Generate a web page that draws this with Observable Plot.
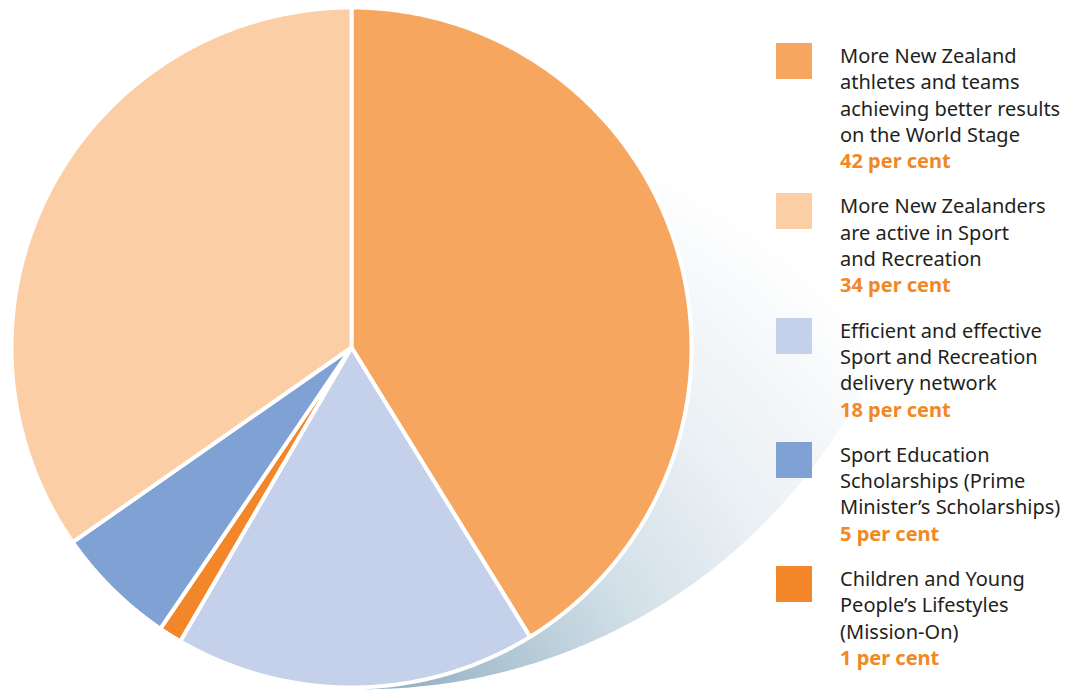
<!DOCTYPE html>
<html>
<head>
<meta charset="utf-8">
<script src="https://cdn.jsdelivr.net/npm/d3@7"></script>
<script src="https://cdn.jsdelivr.net/npm/@observablehq/plot@0.6"></script>
<style>
  html, body { margin: 0; padding: 0; background: #fff; }
  #wrap { position: relative; width: 1073px; height: 692px; overflow: hidden; }
  #chart svg { display: block; }
  #legend { position: absolute; left: 776px; top: 48px; font-family: "Noto Sans", sans-serif; font-size: 20px; color: #231f20; }
  .item { position: relative; padding-left: 64px; margin-bottom: 24px; line-height: 26.3px; }
  .item .sw { position: absolute; left: 0; top: 0; width: 36px; height: 36px; }
  .item .txt { margin-top: -5px; }
  .item .pct { color: #f18824; font-weight: bold; }
</style>
</head>
<body>
<div id="wrap">
  <div id="chart"></div>
  <div id="legend"></div>
</div>
<script>
// ---- data (clockwise from 12 o'clock) ----
const categories = [
  "More New Zealand athletes and teams achieving better results on the World Stage",
  "Efficient and effective Sport and Recreation delivery network",
  "Children and Young People’s Lifestyles (Mission-On)",
  "Sport Education Scholarships (Prime Minister’s Scholarships)",
  "More New Zealanders are active in Sport and Recreation"
];
const values = [41.2, 17.2, 1.1, 5.8, 34.7];          // slice sizes
const colors = ["#f7a660", "#c5d0ea", "#f4862a", "#7fa1d3", "#fbcea6"];

// legend order and text
const legendOrder = [0, 4, 1, 3, 2];
const legendLines = [
  ["More New Zealand", "athletes and teams", "achieving better results", "on the World Stage"],
  ["More New Zealanders", "are active in Sport", "and Recreation"],
  ["Efficient and effective", "Sport and Recreation", "delivery network"],
  ["Sport Education", "Scholarships (Prime", "Minister’s Scholarships)"],
  ["Children and Young", "People’s Lifestyles", "(Mission-On)"]
];
const legendPct = ["42 per cent", "34 per cent", "18 per cent", "5 per cent", "1 per cent"];

// ---- build slice polygons ----
const total = d3.sum(values);
const slices = [];
let acc = 0;
values.forEach((v, i) => {
  const a0 = acc / total * 2 * Math.PI;
  acc += v;
  const a1 = acc / total * 2 * Math.PI;
  const n = Math.max(2, Math.ceil((a1 - a0) / (Math.PI / 720)));
  slices.push({name: categories[i], x: 0, y: 0});
  for (let k = 0; k <= n; k++) {
    const a = a0 + (a1 - a0) * k / n;
    slices.push({name: categories[i], x: Math.sin(a), y: Math.cos(a)});
  }
  slices.push({name: categories[i], x: 0, y: 0});
});

// ---- shadow (larger circle behind the pie, right-hand half) ----
const shadowC = {x: 0.04, y: 0.65, r: 1.655};
const shadowPts = [];
{
  const bottom = Math.PI; // angle measured from top, clockwise
  for (let k = 0; k <= 720; k++) {
    const a = bottom - Math.PI * k / 720;
    shadowPts.push({x: shadowC.x + shadowC.r * Math.sin(a), y: shadowC.y + shadowC.r * Math.cos(a)});
  }
  shadowPts.push({x: shadowC.x, y: shadowC.y});
}

const plot = Plot.plot({
  width: 1073,
  height: 692,
  margin: 0,
  x: {domain: [-1, 1], range: [11, 691], axis: null},
  y: {domain: [-1, 1], range: [687, 7], axis: null},
  color: {domain: categories, range: colors},
  marks: [
    Plot.line(shadowPts, {x: "x", y: "y", fill: "url(#shadowGrad)", stroke: "none", curve: "linear"}),
    Plot.line(slices, {x: "x", y: "y", z: "name", fill: "name", stroke: "#fff", strokeWidth: 4, strokeLinejoin: "round", curve: "linear"})
  ]
});

// gradient definition
const ns = "http://www.w3.org/2000/svg";
const defs = document.createElementNS(ns, "defs");
const grad = document.createElementNS(ns, "radialGradient");
grad.setAttribute("id", "shadowGrad");
grad.setAttribute("gradientUnits", "userSpaceOnUse");
grad.setAttribute("cx", 400); grad.setAttribute("cy", 720);
grad.setAttribute("r", 610);
[[0, "#8aaabf"], [0.14, "#a6bfce"], [0.42, "#d3e0e8"], [0.66, "#eaf0f4"], [0.86, "#f6f8fa"], [1, "#ffffff"]].forEach(([o, c]) => {
  const s = document.createElementNS(ns, "stop");
  s.setAttribute("offset", o);
  s.setAttribute("stop-color", c);
  grad.appendChild(s);
});
defs.appendChild(grad);
plot.insertBefore(defs, plot.firstChild);
document.getElementById("chart").appendChild(plot);

// legend
const legend = document.getElementById("legend");
legendOrder.forEach((ci, j) => {
  const item = document.createElement("div");
  item.className = "item";
  const sw = document.createElement("div");
  sw.className = "sw";
  sw.style.background = colors[ci];
  item.appendChild(sw);
  const txt = document.createElement("div");
  txt.className = "txt";
  txt.innerHTML = legendLines[j].map(l => `<div>${l}</div>`).join("") + `<div class="pct">${legendPct[j]}</div>`;
  item.appendChild(txt);
  legend.appendChild(item);
});
</script>
</body>
</html>
